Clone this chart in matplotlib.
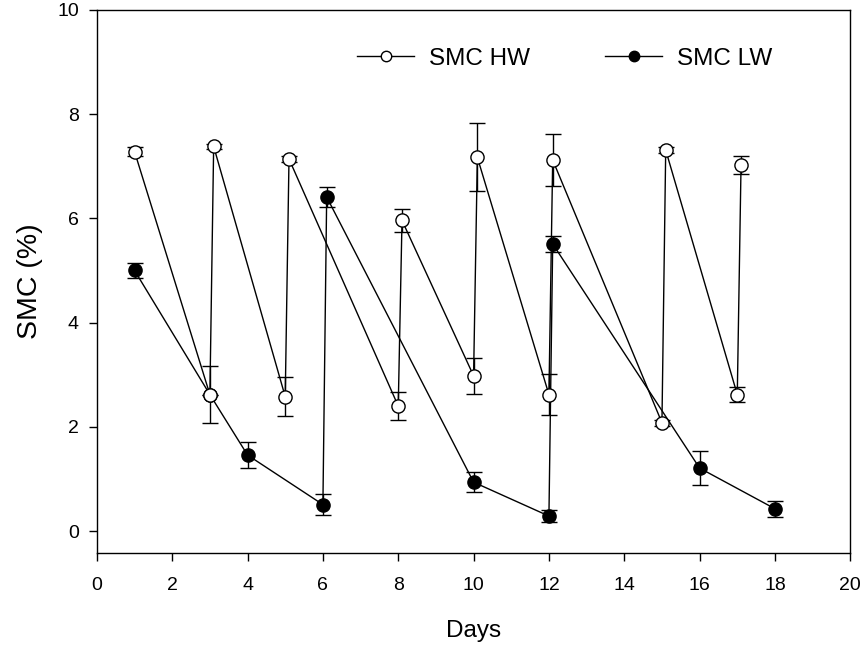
import matplotlib
matplotlib.use("Agg")
import matplotlib.pyplot as plt
from matplotlib.lines import Line2D

# SMC HW (open circles)
hw_days = [1, 3, 3.1, 5, 5.1, 8, 8.1, 10, 10.1, 12, 12.1, 15, 15.1, 17, 17.1]
hw_smc = [7.28, 2.62, 7.38, 2.58, 7.14, 2.40, 5.96, 2.98, 7.17, 2.62, 7.12, 2.08, 7.31, 2.62, 7.03]
hw_err = [0.08, 0.55, 0.05, 0.37, 0.06, 0.27, 0.22, 0.34, 0.65, 0.39, 0.49, 0.06, 0.06, 0.15, 0.17]

# SMC LW (filled circles)
lw_days = [1, 3, 4, 6, 6.1, 10, 12, 12.1, 16, 18]
lw_smc = [5.00, 2.62, 1.46, 0.51, 6.41, 0.94, 0.29, 5.51, 1.21, 0.43]
lw_err = [0.14, 0.0, 0.25, 0.20, 0.20, 0.19, 0.12, 0.16, 0.32, 0.15]

plt.rcParams['font.family'] = ['Liberation Sans', 'DejaVu Sans']

fig = plt.figure(figsize=(8.65, 6.53), dpi=100)
ax = fig.add_axes([0.112, 0.153, 0.871, 0.832])

ax.errorbar(lw_days, lw_smc, yerr=lw_err, color='black', marker='o', ms=9.5,
            mfc='black', mec='black', lw=1.0, elinewidth=1.0, capsize=6, capthick=1.0,
            zorder=2)
ax.errorbar(hw_days, hw_smc, yerr=hw_err, color='black', marker='o', ms=9.5,
            mfc='white', mec='black', mew=1.0, lw=1.0, elinewidth=1.0, capsize=6, capthick=1.0,
            zorder=3)

ax.set_xlim(0, 20)
ax.set_ylim(-0.42, 10)
ax.set_xticks(range(0, 21, 2))
ax.set_yticks(range(0, 11, 2))
ax.tick_params(direction='out', length=6, width=1, labelsize=14, top=False, right=False)
ax.tick_params(axis='x', pad=11)
ax.tick_params(axis='y', pad=7)
for s in ax.spines.values():
    s.set_linewidth(1.0)

ax.set_xlabel('Days', fontsize=17.5, labelpad=19)
ax.set_ylabel('SMC (%)', fontsize=20.5, labelpad=10)

handles = [
    Line2D([], [], color='black', lw=1.0, marker='o', ms=7.5, mfc='white', mec='black'),
    Line2D([], [], color='black', lw=1.0, marker='o', ms=7.5, mfc='black', mec='black'),
]
ax.legend(handles, ['SMC HW', 'SMC LW'], ncol=2, frameon=False, fontsize=17.5,
          handlelength=2.35, columnspacing=3.1, handletextpad=0.6,
          loc='center', bbox_to_anchor=(0.621, 0.91))

fig.savefig('out.png', dpi=100)
